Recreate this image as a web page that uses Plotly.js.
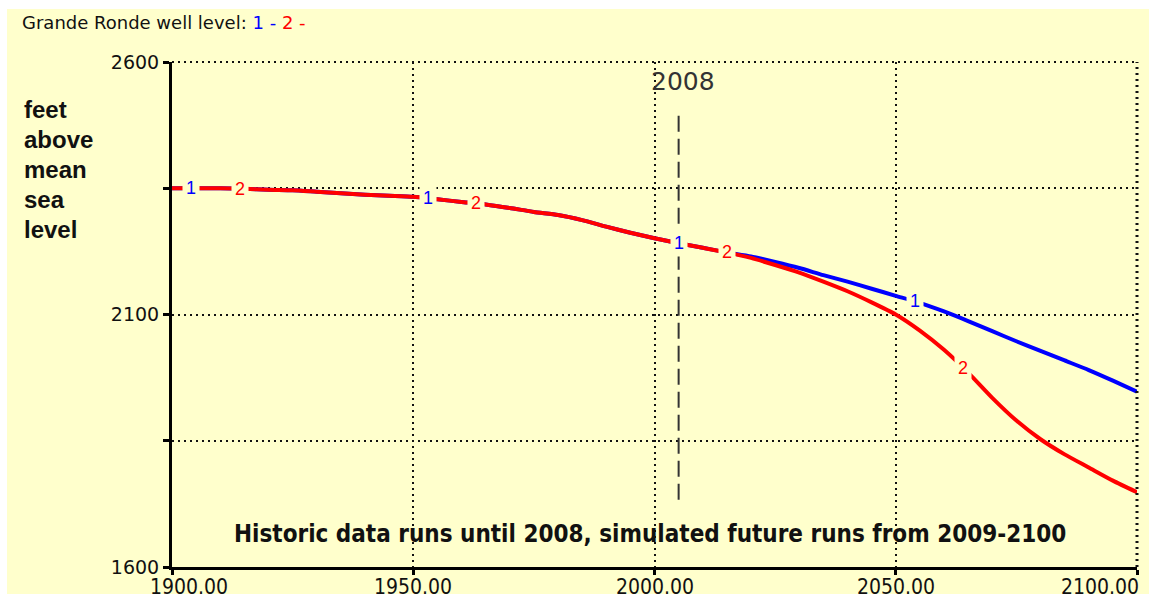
<!DOCTYPE html>
<html>
<head>
<meta charset="utf-8">
<script src="https://cdn.plot.ly/plotly-3.0.1.min.js"></script>
<style>
  html, body { margin: 0; padding: 0; background: #ffffff; width: 1149px; height: 605px; overflow: hidden; }
  #bg { position: absolute; left: 7px; top: 9px; width: 1142px; height: 585px; background: #ffffcc; }
  #chart { position: absolute; left: 7px; top: 9px; width: 1142px; height: 596px; }
</style>
</head>
<body>
<div id="bg"></div>
<div id="chart"></div>
<script>
// ---- data ----
const years = [1900,1905,1910,1915,1920,1925,1930,1935,1940,1945,1950,1955,1960,1965,1970,1975,1980,1985,1990,1995,2000,2005,2010,2015,2020,2025,2030,2035,2040,2045,2050,2055,2060,2065,2070,2075,2080,2085,2090,2095,2100];
const run1Level = [2350,2350,2350,2349,2347,2346,2343,2340,2337,2335,2333,2328,2323,2318,2311,2303,2297,2287,2274,2262,2251,2241,2232,2223,2215,2204,2192,2178,2165,2151,2137,2123,2106,2087,2067,2047,2028,2009,1990,1969,1947];
const run2Level = [2350,2350,2350,2349,2347,2346,2343,2340,2337,2335,2333,2328,2323,2318,2311,2303,2297,2287,2274,2262,2251,2241,2232,2223,2212,2198,2183,2165,2146,2124,2100,2068,2030,1985,1935,1890,1853,1823,1797,1771,1748];
const run1LabelYears = [1904, 1953, 2005, 2054];
const run2LabelYears = [1914, 1963, 2015, 2064];
const yTickVals = [1600, 1850, 2100, 2350, 2600];
const yTickText = ['1600', '', '2100', '', '2600'];
const xTickVals = [1900, 1950, 2000, 2050, 2100];
const xTickText = ['1900.00', '1950.00', '2000.00', '2050.00', '2100.00'];
const yTitleLines = ['feet', 'above', 'mean', 'sea', 'level'];
const markerYear = 2005;
const markerLabel = '2008';
const noteText = 'Historic data runs until 2008, simulated future runs from 2009-2100';

const BG = '#ffffcc';
const BLUE = '#0000ff';
const RED = '#ff0000';
const GRID = { color: '#111111', width: 2, dash: '2px,4px' };
const NARROW = 'Liberation Sans Narrow, DejaVu Sans Condensed, Arial Narrow, sans-serif';

function interp(xs, ys, x) {
  for (let i = 0; i < xs.length - 1; i++) {
    if (x >= xs[i] && x <= xs[i + 1]) {
      const t = (x - xs[i]) / (xs[i + 1] - xs[i]);
      return ys[i] + t * (ys[i + 1] - ys[i]);
    }
  }
  return ys[ys.length - 1];
}

const traces = [
  { x: years, y: run1Level, mode: 'lines', line: { color: BLUE, width: 4, shape: 'spline', smoothing: 0.6 }, hoverinfo: 'skip', showlegend: false },
  { x: years, y: run2Level, mode: 'lines', line: { color: RED, width: 4, shape: 'spline', smoothing: 0.6 }, hoverinfo: 'skip', showlegend: false }
];

const annotations = [];
run1LabelYears.forEach(yr => annotations.push({
  x: yr, y: interp(years, run1Level, yr), xref: 'x', yref: 'y', text: '1', showarrow: false,
  font: { family: 'Liberation Sans, Arial, sans-serif', size: 18, color: BLUE },
  bgcolor: BG, borderpad: 3
}));
run2LabelYears.forEach(yr => annotations.push({
  x: yr, y: interp(years, run2Level, yr), xref: 'x', yref: 'y', text: '2', showarrow: false,
  font: { family: 'Liberation Sans, Arial, sans-serif', size: 18, color: RED },
  bgcolor: BG, borderpad: 3
}));
yTitleLines.forEach((w, i) => annotations.push({
  xref: 'paper', yref: 'paper', x: -0.1554, y: 0.906 - i * (30 / 505), xanchor: 'left', yanchor: 'middle',
  text: '<b>' + w + '</b>', showarrow: false,
  font: { family: 'Liberation Sans, Arial, sans-serif', size: 24, color: '#111111' }
}));
// x tick labels (first and last nudged inward as in the reference)
xTickVals.forEach((v, i) => annotations.push({
  xref: 'x', yref: 'paper', x: v, y: 0, yanchor: 'top', yshift: -6,
  xanchor: i === 0 ? 'left' : (i === xTickVals.length - 1 ? 'right' : 'center'),
  xshift: i === 0 ? -24 : (i === xTickVals.length - 1 ? 4 : 0),
  text: xTickText[i], showarrow: false,
  font: { family: NARROW, size: 21, color: '#111111' }
}));
annotations.push({
  xref: 'x', yref: 'paper', x: markerYear, y: 1 - 19 / 505, xanchor: 'center', yanchor: 'middle', xshift: 4,
  text: markerLabel, showarrow: false,
  font: { family: 'DejaVu Sans, sans-serif', size: 25, color: '#333333' }
});
annotations.push({
  xref: 'paper', yref: 'paper', x: 0.495, y: 1 - 472 / 505, xanchor: 'center', yanchor: 'middle',
  text: '<b>' + noteText + '</b>', showarrow: false,
  font: { family: NARROW, size: 24, color: '#111111' }
});

const layout = {
  width: 1142, height: 596,
  paper_bgcolor: 'rgba(0,0,0,0)', plot_bgcolor: BG,
  margin: { l: 165, r: 12, t: 53, b: 38 },
  showlegend: false,
  title: {
    text: 'Grande Ronde well level: <span style="color:' + BLUE + '">1 -</span> <span style="color:' + RED + '">2 -</span>',
    xref: 'container', yref: 'container', x: 15 / 1142, xanchor: 'left', y: 1 - 14 / 596, yanchor: 'middle',
    font: { family: 'DejaVu Sans, sans-serif', size: 18, color: '#111111' }
  },
  xaxis: {
    range: [1900, 2100], tickvals: xTickVals, showticklabels: false,
    showline: true, linecolor: '#000000', linewidth: 3,
    ticks: 'outside', ticklen: 5, tickwidth: 3, tickcolor: '#000000',
    showgrid: true, gridcolor: GRID.color, gridwidth: GRID.width, griddash: GRID.dash,
    zeroline: false,
    fixedrange: true
  },
  yaxis: {
    range: [1600, 2600], tickvals: yTickVals, ticktext: yTickText,
    showline: true, linecolor: '#000000', linewidth: 3,
    ticks: 'outside', ticklen: 6, tickwidth: 3, tickcolor: '#000000',
    showgrid: true, gridcolor: GRID.color, gridwidth: GRID.width, griddash: GRID.dash,
    zeroline: false,
    tickfont: { family: 'DejaVu Sans, sans-serif', size: 19, color: '#111111' },
    fixedrange: true
  },
  shapes: [
    { type: 'line', xref: 'x', yref: 'y', x0: markerYear, x1: markerYear, y0: 1733, y1: 2501,
      line: { color: '#333333', width: 2, dash: '16px,7px' } },
    { type: 'line', xref: 'paper', yref: 'paper', x0: 0, x1: 1, y0: 1, y1: 1, line: GRID },
    { type: 'line', xref: 'paper', yref: 'paper', x0: 1, x1: 1, y0: 0, y1: 1, line: { color: GRID.color, width: 3, dash: GRID.dash } }
  ],
  annotations: annotations
};

Plotly.newPlot('chart', traces, layout, { displayModeBar: false, staticPlot: true });
</script>
</body>
</html>
